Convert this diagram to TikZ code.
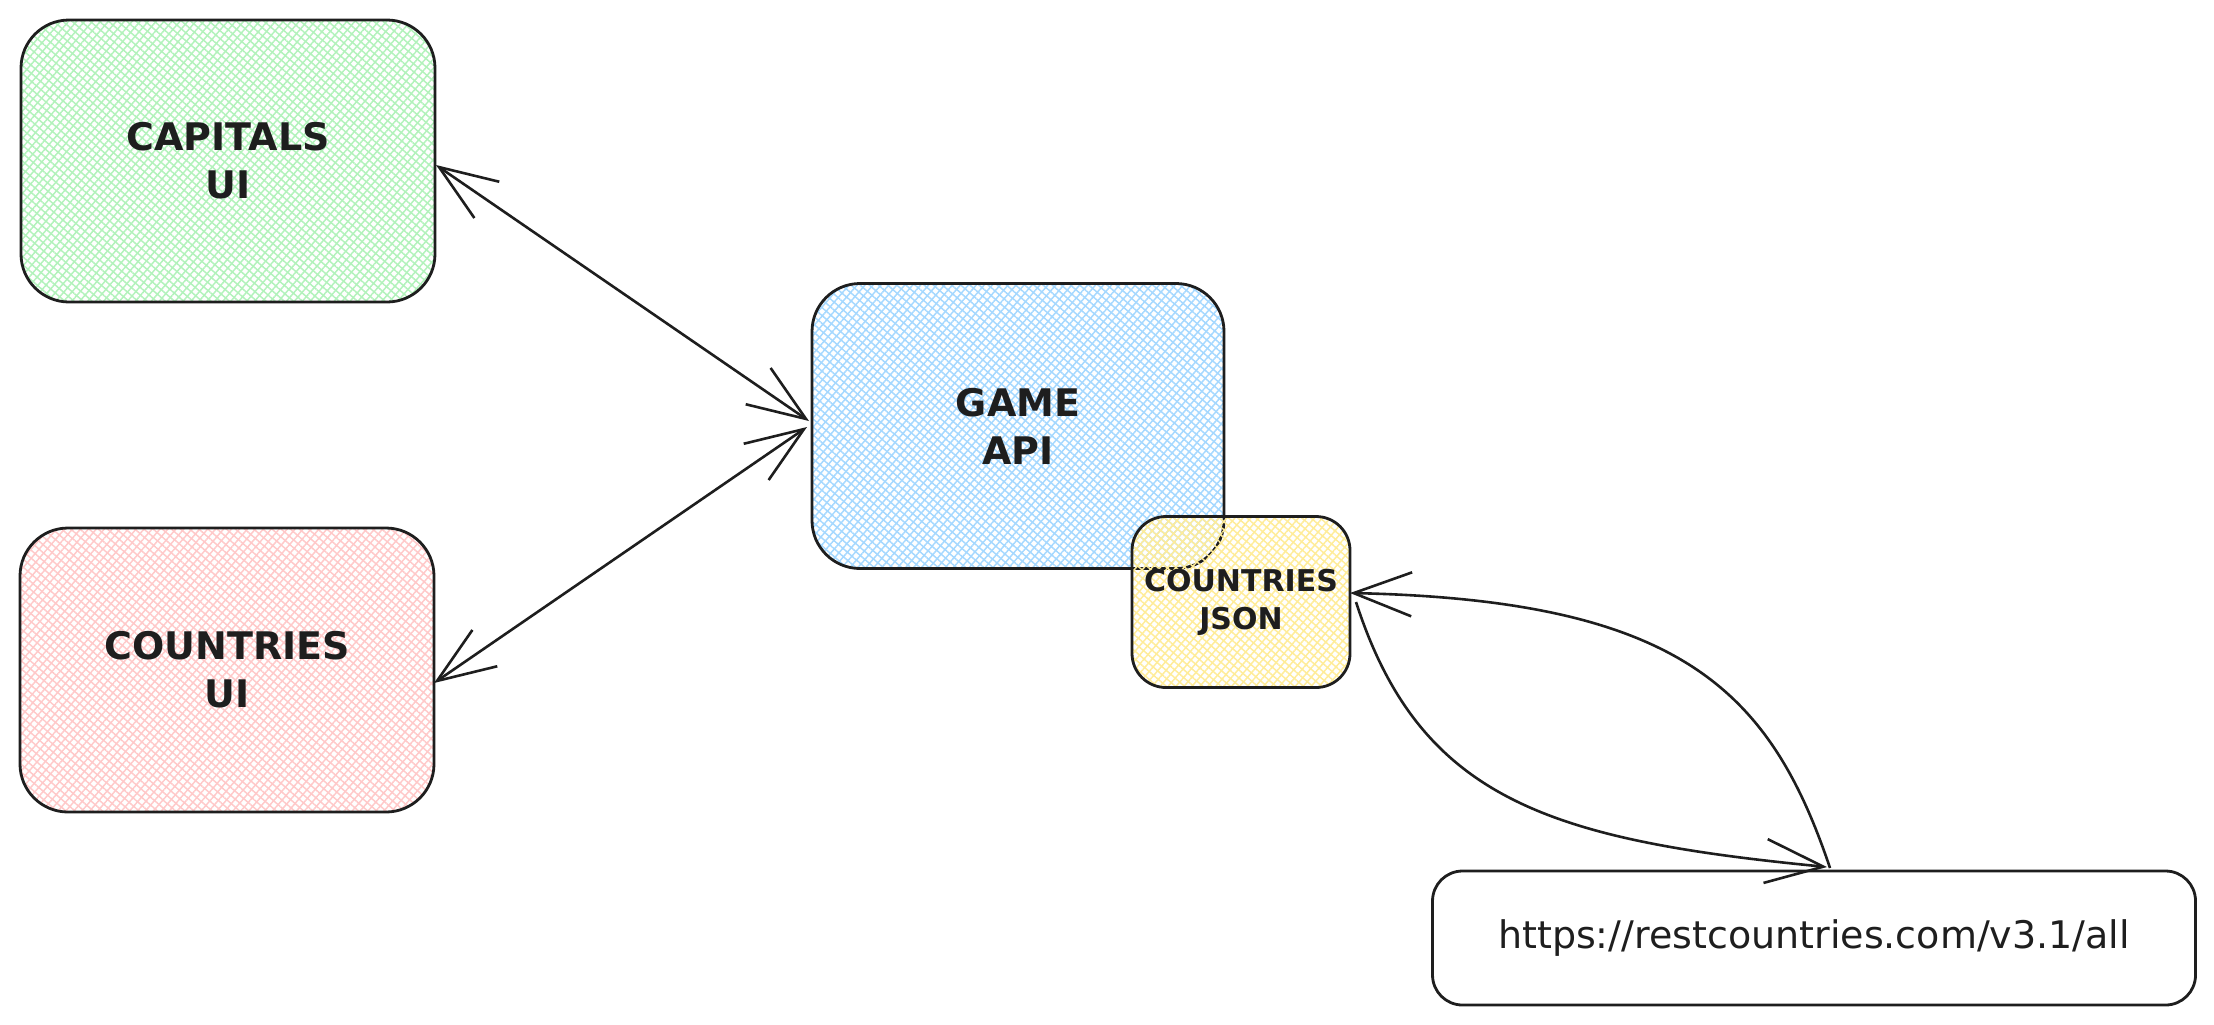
\documentclass[tikz,border=0pt]{standalone}
\usepackage{fontspec}
\setmainfont{DejaVu Sans}
\usetikzlibrary{patterns.meta,arrows.meta,calc}
\definecolor{ink}{HTML}{1E1E1E}
\definecolor{hgreen}{HTML}{B2F2BB}
\definecolor{hred}{HTML}{FFC9C9}
\definecolor{hblue}{HTML}{A5D8FF}
\definecolor{hyellow}{HTML}{FFEC99}
\tikzset{
  hatch/.style={
    preaction={pattern={Lines[angle=49,distance=3pt,line width=0.75pt]},pattern color=#1},
    preaction={pattern={Lines[angle=-41,distance=3pt,line width=0.75pt]},pattern color=#1}},
  boxnode/.style={draw=ink,line width=1.4pt,rounded corners=24pt,outer sep=0pt,
    align=center,text=ink,font=\bfseries\fontsize{19}{24}\selectfont},
  conn/.style={draw=ink,line width=1.3pt,
    arrows={Straight Barb[length=29pt,width=22pt,line width=1.3pt]-Straight Barb[length=29pt,width=22pt,line width=1.3pt]}},
  connend/.style={draw=ink,line width=1.3pt,
    -{Straight Barb[length=29pt,width=22pt,line width=1.3pt]}},
}
\begin{document}
\begin{tikzpicture}[x=0.5pt,y=-0.5pt]
\useasboundingbox (0,0) rectangle (2214,1024);
\node[boxnode,hatch=hgreen,minimum width=207pt,minimum height=141pt] (cap) at (228,161) {CAPITALS\\UI};
\node[boxnode,hatch=hred,minimum width=207pt,minimum height=142pt] (cui) at (227,670) {COUNTRIES\\UI};
\node[boxnode,hatch=hblue,minimum width=206pt,minimum height=142.5pt] (game) at (1018,426) {GAME\\API};
\node[boxnode,hatch=hyellow,rounded corners=17pt,minimum width=109pt,minimum height=85.5pt,
  font=\bfseries\fontsize{15}{19}\selectfont] (json) at (1241,602) {COUNTRIES\\JSON};
\node[boxnode,rounded corners=15pt,minimum width=381.5pt,minimum height=67pt,
  font=\fontsize{19}{24}\selectfont] (url) at (1814,938) {https://restcountries.com/v3.1/all};
\draw[conn] ($(cap.east)+(1,4)$) -- ($(game.west)+(-3,-5)$);
\draw[conn] ($(cui.east)+(0,13)$) -- ($(game.west)+(-5,1)$);
\draw[connend] ($(url.north)+(16,-3)$) .. controls (1770,690) and (1680,600) .. ($(json.east)+(0,-9)$);
\draw[connend] ($(json.east)+(6,0)$) .. controls (1420,800) and (1550,840) .. ($(url.north)+(13,-4)$);
\end{tikzpicture}
\end{document}
